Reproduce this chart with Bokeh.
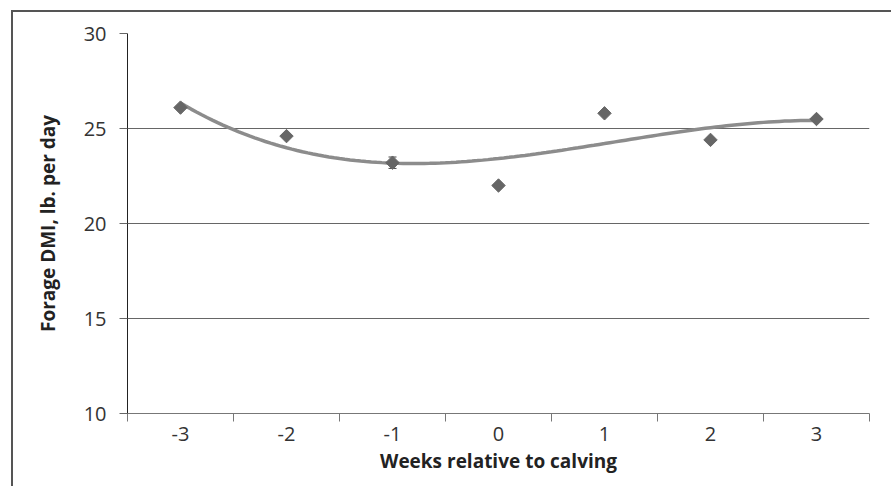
import numpy as np
from bokeh.plotting import figure
from bokeh.models import (ColumnDataSource, FixedTicker, Range1d,
                          Whisker, TeeHead)
from bokeh.embed import file_html
from bokeh.resources import INLINE

# ---- data ----
weeks = [-3, -2, -1, 0, 1, 2, 3]
week_labels = ["-3", "-2", "-1", "0", "1", "2", "3"]
forage_dmi = [26.1, 24.6, 23.2, 22.0, 25.8, 24.4, 25.5]
err_weeks = [-1]
err_center = [23.2]
err_half = [0.3]
y_ticks = [10, 15, 20, 25, 30]

FONT = "Open Sans"

p = figure(width=880, height=476, output_backend="svg", toolbar_location=None,
           x_range=Range1d(-3.5, 3.5), y_range=Range1d(10, 30),
           min_border_left=114, min_border_top=21, min_border_right=24,
           min_border_bottom=75)
p.outline_line_color = None
p.background_fill_color = "white"
p.border_fill_color = "white"
p.margin = (10, 0, 0, 11)
p.styles = {"border-top": "2px solid #555555", "border-left": "2px solid #555555"}

# polynomial (cubic) trendline fitted to the data
coef = np.polyfit(weeks, forage_dmi, 3)
xs = np.linspace(weeks[0], weeks[-1], 121)
p.line(xs, np.polyval(coef, xs), line_color="#8c8c8c", line_width=3.5)

# error bar
esrc = ColumnDataSource(dict(x=err_weeks,
                             upper=[c + h for c, h in zip(err_center, err_half)],
                             lower=[c - h for c, h in zip(err_center, err_half)]))
p.add_layout(Whisker(base="x", upper="upper", lower="lower", source=esrc,
                     line_color="#444444", line_width=1,
                     upper_head=TeeHead(size=8, line_color="#444444"),
                     lower_head=TeeHead(size=8, line_color="#444444")))

p.scatter(weeks, forage_dmi, marker="square", angle=np.pi / 4, size=9.5,
          fill_color="#666666", line_color="#666666")

# x axis: labels at week centres, ticks at category boundaries
xa = p.xaxis[0]
xa.ticker = FixedTicker(ticks=weeks,
                        minor_ticks=[w - 0.5 for w in weeks] + [weeks[-1] + 0.5])
xa.major_label_overrides = {w: l for w, l in zip(weeks, week_labels)}
xa.major_tick_out = 0
xa.major_tick_in = 0
xa.minor_tick_out = 8
xa.minor_tick_in = 0
xa.minor_tick_line_color = "#777777"
xa.axis_line_color = "#777777"
xa.major_label_text_font = FONT
xa.major_label_text_font_size = "20px"
xa.major_label_text_color = "#333333"
xa.major_label_standoff = 5
xa.axis_label = "Weeks relative to calving"
xa.axis_label_text_font = FONT
xa.axis_label_text_font_style = "bold"
xa.axis_label_text_font_size = "19px"
xa.axis_label_text_color = "#222222"
xa.axis_label_standoff = 4

ya = p.yaxis[0]
ya.ticker = FixedTicker(ticks=y_ticks, minor_ticks=[])
ya.major_tick_out = 8
ya.major_tick_in = 0
ya.major_tick_line_color = "#666666"
ya.axis_line_color = "#222222"
ya.major_label_text_font = FONT
ya.major_label_text_font_size = "20px"
ya.major_label_text_color = "#333333"
ya.major_label_standoff = 13
ya.axis_label = "Forage DMI, lb. per day"
ya.axis_label_text_font = FONT
ya.axis_label_text_font_style = "bold"
ya.axis_label_text_font_size = "19px"
ya.axis_label_text_color = "#222222"
ya.axis_label_standoff = 20

p.xgrid.grid_line_color = None
p.ygrid.grid_line_color = "#666666"
p.ygrid.grid_line_width = 1

open("out.html", "w").write(file_html(p, INLINE))
